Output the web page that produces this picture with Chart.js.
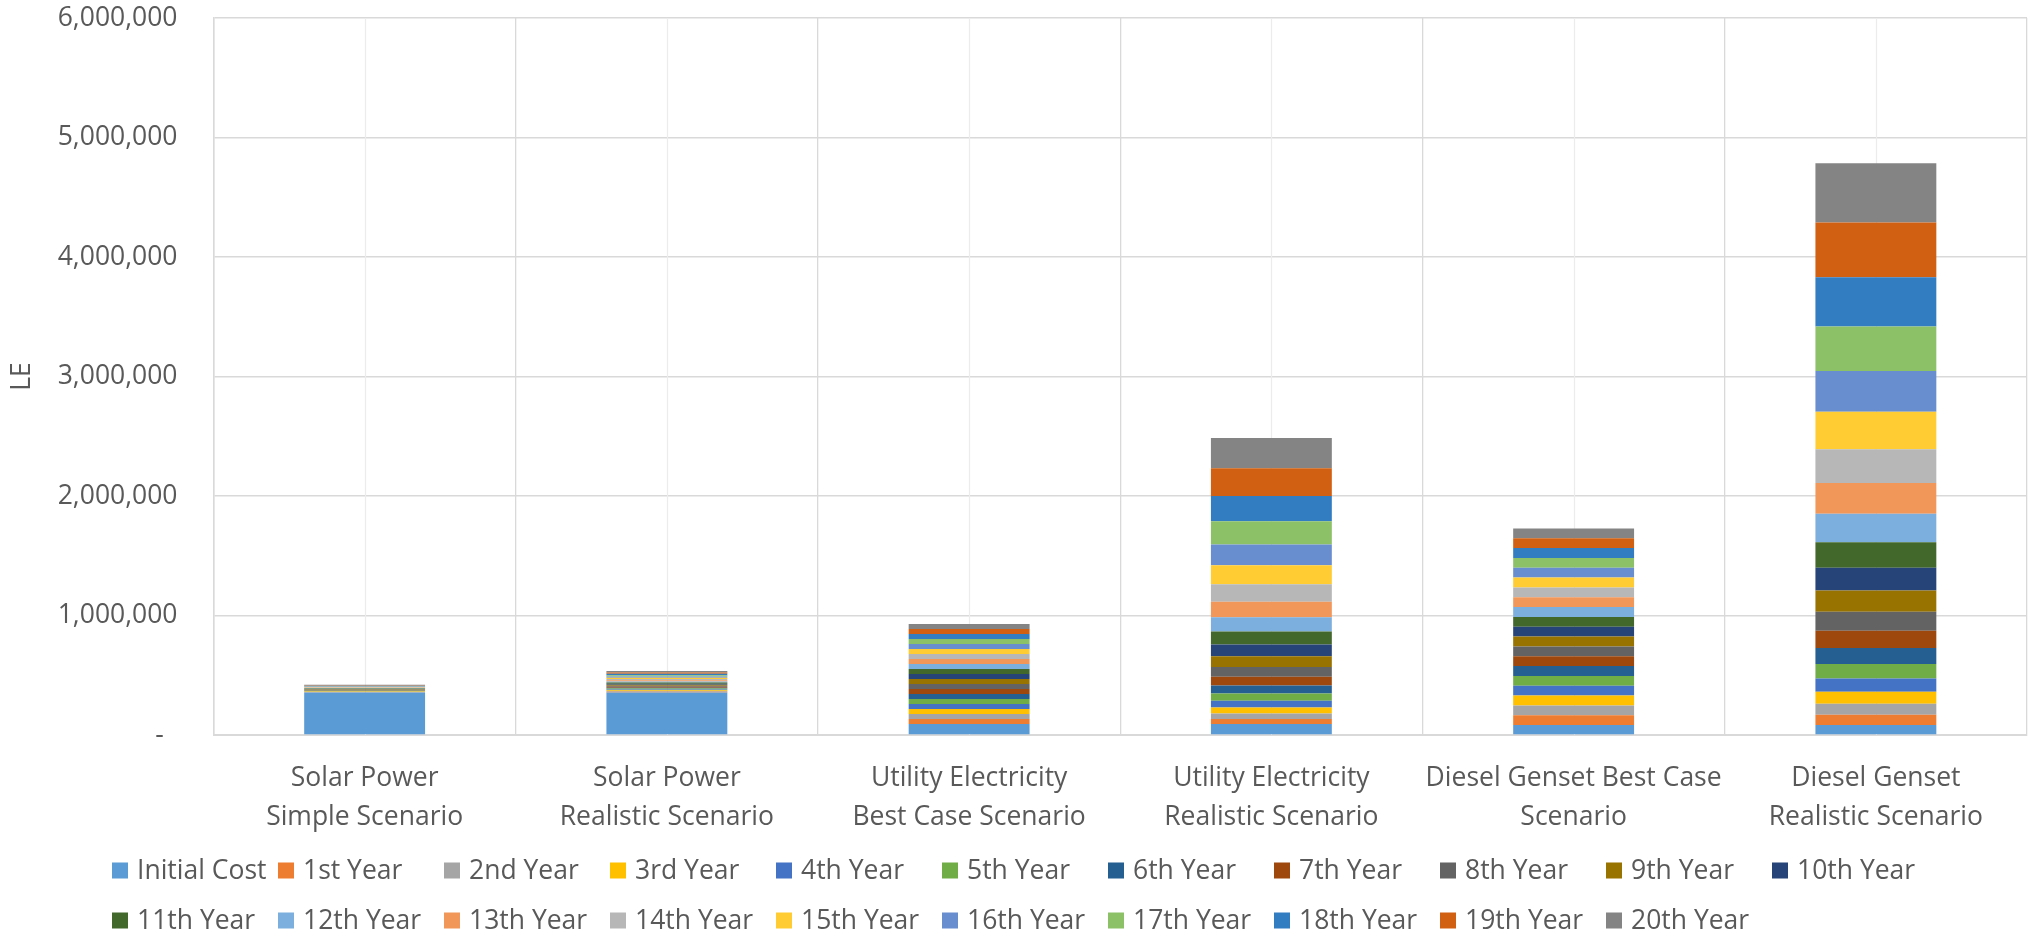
<!DOCTYPE html>
<html>
<head>
<meta charset="utf-8">
<script src="https://cdn.jsdelivr.net/npm/chart.js@4/dist/chart.umd.min.js"></script>
<style>
  html, body { margin: 0; padding: 0; background: #ffffff; }
  #wrap { width: 2040px; height: 937px; }
</style>
</head>
<body>
<div id="wrap"><canvas id="costChart" width="2040" height="937"></canvas></div>
<script>
// Scenario labels (two lines each, as printed under the bars)
const categories = [
  ['Solar Power', 'Simple Scenario'],
  ['Solar Power', 'Realistic Scenario'],
  ['Utility Electricity', 'Best Case Scenario'],
  ['Utility Electricity', 'Realistic Scenario'],
  ['Diesel Genset Best Case', 'Scenario'],
  ['Diesel Genset', 'Realistic Scenario']
];

// Cost components stacked in each bar
const seriesNames = [
  'Initial Cost', '1st Year', '2nd Year', '3rd Year', '4th Year', '5th Year',
  '6th Year', '7th Year', '8th Year', '9th Year', '10th Year', '11th Year',
  '12th Year', '13th Year', '14th Year', '15th Year', '16th Year', '17th Year',
  '18th Year', '19th Year', '20th Year'
];

const seriesColors = [
  '#5B9BD5', '#ED7D31', '#A5A5A5', '#FFC000', '#4472C4', '#70AD47',
  '#255E91', '#9E480E', '#636363', '#997300', '#264478', '#43682B',
  '#7CAFDD', '#F1975A', '#B7B7B7', '#FFCD33', '#698ED0', '#8CC168',
  '#327DC2', '#D26012', '#848484'
];

// LE per component: initial cost followed by years 1..20
const solarSimple = [355000,
  2800, 2900, 3000, 3000, 3100, 3100, 3200, 3200, 3200, 3300,
  3300, 3300, 3300, 3400, 3400, 3400, 3500, 3500, 3500, 3600];
const solarRealistic = [355000,
  6100, 6400, 6700, 7000, 7300, 7600, 7900, 8200, 8600, 8900,
  9200, 9500, 9800, 10100, 10400, 10800, 11100, 11500, 11900, 12300];
const utilityBest = [92000,
  41800, 41800, 41800, 41800, 41800, 41800, 41800, 41800, 41800, 41800,
  41800, 41800, 41800, 41800, 41800, 41800, 41800, 41800, 41800, 41800];
const utilityRealistic = [92000,
  42000, 46000, 51000, 55000, 61000, 67000, 74000, 82000, 89000, 98000,
  109000, 119000, 131000, 145000, 159000, 175000, 193000, 211000, 233000, 254000];
const dieselBest = [83000,
  82300, 82300, 82300, 82300, 82300, 82300, 82300, 82300, 82300, 82300,
  82300, 82300, 82300, 82300, 82300, 82300, 82300, 82300, 82300, 82300];
const dieselRealistic = [83000,
  86000, 93000, 100000, 110000, 122000, 133000, 146000, 159000, 177000, 190000,
  214000, 238000, 257000, 283000, 314000, 340000, 374000, 412000, 457000, 497000];

// Value axis
const yTickValues = [0, 1000000, 2000000, 3000000, 4000000, 5000000, 6000000];
const yTickLabels = ['-  ', '1,000,000', '2,000,000', '3,000,000', '4,000,000', '5,000,000', '6,000,000'];

const scenarios = [solarSimple, solarRealistic, utilityBest, utilityRealistic, dieselBest, dieselRealistic];

const FONT = '"Open Sans", "Noto Sans", sans-serif';
const FS = 26.5;
const TEXT = '#595959';
const GRID = '#d9d9d9';

const datasets = seriesNames.map((name, i) => ({
  label: name,
  data: scenarios.map(s => s[i]),
  backgroundColor: seriesColors[i],
  borderWidth: 0,
  barPercentage: 0.4,
  categoryPercentage: 1.0
}));

// Faint vertical lines through each category centre, under the bars
const centreLines = {
  id: 'centreLines',
  beforeDatasetsDraw(chart) {
    const { ctx, chartArea, scales } = chart;
    ctx.save();
    ctx.strokeStyle = '#ececec';
    ctx.lineWidth = 1.2;
    categories.forEach((c, i) => {
      const x = Math.round(scales.x.getPixelForValue(i)) + 0.5;
      ctx.beginPath();
      ctx.moveTo(x, chartArea.top);
      ctx.lineTo(x, chartArea.bottom);
      ctx.stroke();
    });
    ctx.restore();
  }
};

// Legend laid out in fixed-width columns under the axis
const gridLegend = {
  id: 'gridLegend',
  afterDraw(chart) {
    const ctx = chart.ctx;
    ctx.save();
    ctx.font = FS + 'px ' + FONT;
    ctx.textBaseline = 'middle';
    ctx.textAlign = 'left';
    chart.data.datasets.forEach((ds, i) => {
      const col = i % 11, row = Math.floor(i / 11);
      const x = 112 + col * 166;
      const y = 870.5 + row * 50;
      ctx.fillStyle = ds.backgroundColor;
      ctx.fillRect(x, y - 8, 16, 16);
      ctx.fillStyle = TEXT;
      ctx.fillText(ds.label, x + 25, y + 1);
    });
    ctx.restore();
  }
};

function build() {
  new Chart(document.getElementById('costChart'), {
    type: 'bar',
    data: { labels: categories, datasets },
    plugins: [centreLines, gridLegend],
    options: {
      responsive: false,
      devicePixelRatio: 1,
      animation: false,
      layout: { padding: { top: 18, right: 13, left: 0, bottom: 0 } },
      plugins: {
        legend: { display: false },
        tooltip: { enabled: false },
        title: { display: false }
      },
      scales: {
        x: {
          stacked: true,
          offset: true,
          ticks: {
            color: TEXT,
            font: { family: FONT, size: FS, lineHeight: 1.47 },
            padding: 24,
            maxRotation: 0,
            autoSkip: false
          },
          grid: { offset: true, color: GRID, lineWidth: 1.3, drawTicks: false },
          border: { display: true, color: GRID, width: 2 },
          afterFit: s => { s.height = 202; }
        },
        y: {
          stacked: true,
          min: 0,
          max: 6000000,
          ticks: {
            stepSize: 1000000,
            padding: 0,
            color: TEXT,
            font: { family: FONT, size: FS },
            callback: v => yTickLabels[yTickValues.indexOf(v)]
          },
          grid: {
            color: GRID,
            lineWidth: 1.5,
            drawTicks: true,
            tickLength: 36,
            tickColor: 'rgba(0,0,0,0)'
          },
          border: { display: true, color: GRID, width: 1.5 },
          title: {
            display: true,
            text: 'LE',
            color: TEXT,
            font: { family: FONT, size: FS },
            padding: { top: 7, bottom: 0 }
          },
          afterFit: s => { s.width = 213.5; }
        }
      }
    }
  });
}

if (document.fonts && document.fonts.load) {
  document.fonts.load(FS + 'px "Open Sans"').then(build, build);
} else {
  build();
}
</script>
</body>
</html>
